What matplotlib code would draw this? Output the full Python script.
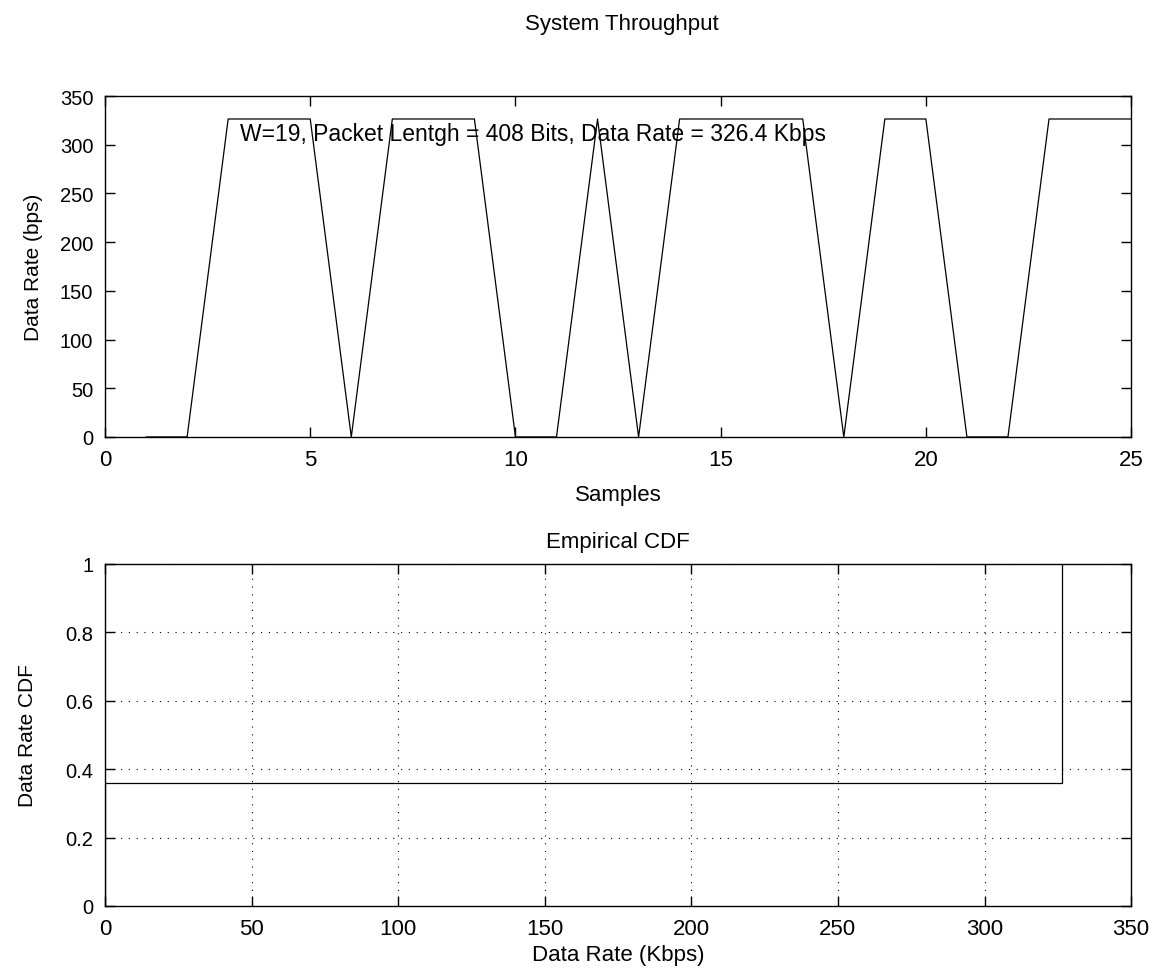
import matplotlib
matplotlib.use("Agg")
import matplotlib.pyplot as plt
import numpy as np

plt.rcParams['font.family'] = ['Liberation Sans', 'DejaVu Sans']
plt.rcParams['font.size'] = 15

samples = np.arange(1, 26)
rate = [0, 0, 326.4, 326.4, 326.4, 0, 326.4, 326.4, 326.4, 0, 0, 326.4, 0,
        326.4, 326.4, 326.4, 326.4, 0, 326.4, 326.4, 0, 0, 326.4, 326.4, 326.4]
note = "W=19, Packet Lentgh = 408 Bits, Data Rate = 326.4 Kbps"

# empirical cdf of the rates
vals, counts = np.unique(rate, return_counts=True)
cdf = np.cumsum(counts) / len(rate)
cx = np.repeat(vals, 2)
cy = np.concatenate([[0], np.repeat(cdf, 2)[:-1]])

fig = plt.figure(figsize=(11.53, 9.7), dpi=100)
ax1 = fig.add_axes([0.0911, 0.5485, 0.8899, 0.3515])
ax2 = fig.add_axes([0.0911, 0.065, 0.8899, 0.3526])

ax1.plot(samples, rate, color='black', lw=0.9)
ax1.set_xlim(0, 25)
ax1.set_ylim(0, 350)
ax1.set_xticks([0, 5, 10, 15, 20, 25])
ax1.set_yticks(np.arange(0, 351, 50))
ax1.set_xlabel("Samples", fontsize=16, labelpad=10)
ax1.set_ylabel("Data Rate (bps)", fontsize=15, labelpad=12)
ax1.text(3.3, 311, note, va='center', ha='left', fontsize=16.5)
fig.text(0.539, 0.975, "System Throughput", ha='center', va='center', fontsize=16)

ax2.plot(cx, cy, color='black', lw=0.9)
ax2.set_xlim(0, 350)
ax2.set_ylim(0, 1)
ax2.set_xticks(np.arange(0, 351, 50))
ax2.set_yticks([0, 0.2, 0.4, 0.6, 0.8, 1])
ax2.set_yticklabels(['0', '0.2', '0.4', '0.6', '0.8', '1'])
ax2.grid(True, color='black', linestyle=(0, (1, 6)), lw=0.8)
ax2.set_xlabel("Data Rate (Kbps)", fontsize=16, labelpad=4)
ax2.set_ylabel("Data Rate CDF", fontsize=15, labelpad=20)
ax2.set_title("Empirical CDF", fontsize=16, pad=12)

for ax in (ax1, ax2):
    ax.tick_params(direction='in', top=True, right=True, length=7, width=1, pad=8.5)
    ax.tick_params(axis='x', labelsize=16)
    ax.tick_params(axis='y', labelsize=14.5)
    for s in ax.spines.values():
        s.set_linewidth(1)

fig.savefig("out.png", dpi=100)
